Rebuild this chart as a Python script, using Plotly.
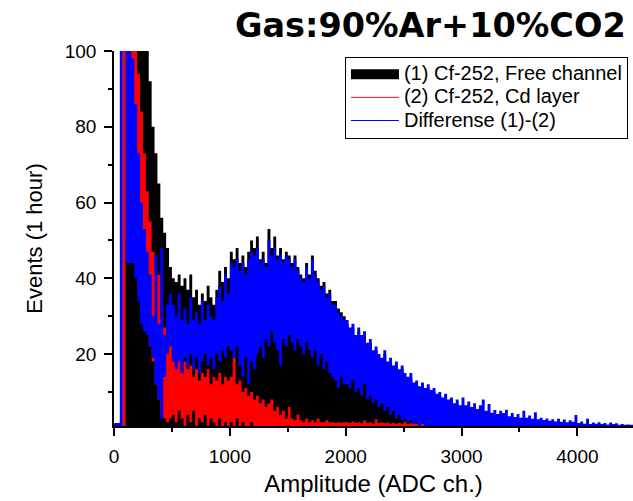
import numpy as np
import plotly.graph_objects as go

# ---------------- data (25 ADC-channel bins) ----------------
BIN_WIDTH = 25  # ADC channels per displayed bin

# (1) Cf-252, Free channel : upper envelope per bin (lower envelope is 0)
free_hi = [0, 0, 0,
           150, 150, 150, 150, 150, 150, 150, 150,
           101, 92, 80, 73, 65, 56, 52, 48, 43,
           40, 39, 41, 38, 40, 37, 41, 35, 37, 33, 36, 34, 38, 35, 33, 37, 42, 39, 43, 40,
           47, 45, 48, 44, 46, 43, 47, 50, 48, 51, 45, 47, 44, 53, 48, 51, 46, 48, 45, 47,
           46, 44, 46, 43, 41, 40, 44, 41, 46, 42, 40, 38, 39, 36, 37, 34, 34, 32, 31, 30,
           28, 26, 27, 24, 26, 24, 25, 22, 23, 20, 21, 19, 18, 20, 17, 18, 16, 17, 15, 16,
           14, 13, 14, 12, 12, 11, 12, 10, 11, 10, 10, 9, 9, 8, 9, 7, 8, 6.5, 7, 6]

# (2) Cf-252, Cd layer : lower / upper envelope per bin
cd_lo = [0, 0, 0, 0,
         50, 50, 50,
         45, 38, 32, 28, 26, 22, 18, 12, 8, 4, 3, 2, 3,
         4, 2, 5, 3, 1, 4, 2, 5, 1, 3, 2, 4, 1, 3, 2, 1, 3, 1, 2, 1,
         2, 1, 3, 1, 2, 0, 1, 2, 0, 1] + [0] * 70
cd_hi = [0, 0, 0,
         150,
         150, 150,
         118, 103, 94, 84, 73, 63, 55, 47, 42, 41, 30, 27, 25, 23,
         20, 17, 19, 15, 18, 16, 17, 14, 16, 13, 15, 14, 16, 12, 14, 13, 15, 12, 14, 13,
         14, 19, 12, 13, 10, 11, 9, 10, 8, 9, 7, 8, 6, 7, 8, 5, 6, 4, 5, 3,
         6, 3, 2.5, 4, 2.5, 2, 3, 2, 2.5, 2, 3, 2, 2, 2.5, 2, 2, 1.8, 2, 1.8, 2,
         2, 1.8, 2.2, 1.8, 2, 1.7, 2.5, 1.8, 2, 1.6, 2.8, 1.8, 2, 1.7, 1.9, 1.6, 1.8, 1.5, 1.8, 1.6,
         2.2, 1.5, 1.7, 1.5, 1.6, 1.4, 1.6, 1.4, 1.5, 1.3, 1.5, 1.3, 1.4, 1.3, 1.4, 1.2, 1.3, 1.2, 1.3, 1.2]

# Differense (1)-(2) : lower / upper envelope per bin
diff_lo = [0, 0, 0, 0,
           44, 44, 44,
           40, 34, 28, 26, 25, 22, 19, 12, 8, 3, 14, 20, 22,
           18, 16, 18, 15, 19, 17, 20, 16, 19, 15, 18, 20, 17, 19, 16, 20, 18, 21, 19, 22,
           21, 19, 22, 17, 14, 19, 12, 18, 16, 20, 22, 19, 24, 22, 26, 23, 21, 17, 24, 22,
           25, 23, 21, 24, 22, 20, 23, 21, 19, 21, 17, 20, 16, 18, 15, 14, 13, 11, 14, 12,
           12, 11, 13, 10, 11, 9, 12, 8, 9, 7, 8, 6, 7, 5, 6, 4, 5, 3, 4, 2.5,
           3, 2, 2.5, 1.5, 2, 1, 1.5, 0, 0, 0, 0, 0, 0, 0, 0, 0, 0, 0, 0, 0] + [0] * 60
diff_hi = [1.8, 1.8, 150, 0, 150, 150,
           98, 86, 73, 60, 53, 47, 41, 30, 46, 28, 48, 25, 33, 36,
           33, 30, 36, 29, 32, 28, 35, 29, 31, 28, 34, 29, 33, 30, 29, 35, 38, 34, 41, 36,
           44, 43, 45, 42, 44, 41, 45, 47, 46, 48, 44, 45, 43, 50, 46, 48, 45, 46, 44, 46,
           45, 43, 45, 42, 40, 39, 43, 40, 45, 41, 39, 37, 38, 35, 36, 33, 33, 31, 30, 29,
           29, 27, 28, 25, 27, 25, 26, 23, 24, 21, 22, 20, 19, 21, 18, 19, 17, 18, 16, 17,
           15, 14, 15, 12.5, 13, 11.5, 12.5, 11, 12, 10.5, 11, 9.5, 10, 8.5, 9.5, 8, 8.5, 7, 8, 6.5,
           8.5, 6.5, 7.5, 6, 7, 5.5, 6.5, 8, 5, 6.8, 4.5, 5.2, 4.2, 5, 4.4, 5.3, 3.6, 4.4, 3.4, 4.2,
           3.2, 5, 3.2, 3.8, 2.9, 4.6, 2.8, 3.2, 2.6, 3.0, 2.4, 2.8, 2.2, 2.9, 2.1, 2.7, 2.0, 2.5, 2.1, 3.9,
           1.8, 2.2, 1.6, 2.9, 1.5, 1.9, 1.6, 2.0, 1.5, 1.8, 1.4, 1.9, 1.5, 1.7, 1.3, 1.5, 1.3, 1.4, 1.3, 1.3]

series_names = ["(1) Cf-252, Free channel", "(2) Cf-252, Cd layer", "Differense (1)-(2)"]
x_tick_values = [0, 1000, 2000, 3000, 4000]
y_tick_values = [20, 40, 60, 80, 100]
title_text = "Gas:90%Ar+10%CO2"
x_title = "Amplitude (ADC ch.)"
y_title = "Events (1 hour)"


def band(lo, hi, w):
    """Stepped outline of a histogram band between lo and hi."""
    n = len(hi)
    edges = np.arange(n + 1) * w
    xs, ys = [], []
    for i in range(n):
        xs += [edges[i], edges[i + 1]]
        ys += [hi[i], hi[i]]
    for i in reversed(range(n)):
        xs += [edges[i + 1], edges[i]]
        ys += [lo[i], lo[i]]
    return xs, ys


fig = go.Figure()

layers = [
    ([0] * len(free_hi), free_hi, "#000000"),
    (cd_lo, cd_hi, "#ff0000"),
    (diff_lo, diff_hi, "#0000ff"),
]
for lo, hi, col in layers:
    xs, ys = band(lo, hi, BIN_WIDTH)
    fig.add_trace(go.Scatter(x=xs, y=ys, mode="lines", fill="toself", fillcolor=col,
                             line=dict(width=0, color=col, simplify=False),
                             hoverinfo="skip", showlegend=False))

# legend entries (text drawn larger than the legend's nominal font to keep rows compact)
def legend_label(s):
    return '<span style="font-size:20px">' + s + '</span>'

fig.add_trace(go.Scatter(x=[None], y=[None], mode="lines", name=legend_label(series_names[0]),
                         line=dict(color="#000000", width=15)))
fig.add_trace(go.Scatter(x=[None], y=[None], mode="lines", name=legend_label(series_names[1]),
                         line=dict(color="#ff0000", width=1)))
fig.add_trace(go.Scatter(x=[None], y=[None], mode="lines", name=legend_label(series_names[2]),
                         line=dict(color="#0000ff", width=1)))

font_family = "Arial, Liberation Sans, sans-serif"
axis_common = dict(showline=True, linecolor="black", linewidth=1.5, ticks="outside",
                   ticklen=8, tickwidth=1.5, tickcolor="black", showgrid=False,
                   zeroline=False, tickfont=dict(family=font_family, size=19, color="black"),
                   ticklabelstandoff=4)

fig.update_layout(
    width=633, height=501,
    margin=dict(l=114, r=0, t=51, b=75),
    paper_bgcolor="white", plot_bgcolor="white",
    font=dict(family=font_family, color="black"),
    xaxis=dict(range=[0, 4480], tickvals=x_tick_values,
               minor=dict(dtick=500, tick0=0, ticks="outside", ticklen=4, tickwidth=1.5, tickcolor="black"),
               title=dict(text=x_title, font=dict(size=24), standoff=10), **axis_common),
    yaxis=dict(range=[1, 100], tickvals=y_tick_values,
               minor=dict(dtick=10, tick0=0, ticks="outside", ticklen=4, tickwidth=1.5, tickcolor="black"),
               title=dict(text=y_title, font=dict(size=22), standoff=16), **axis_common),
    legend=dict(x=0.445, y=0.985, xanchor="left", yanchor="top", bgcolor="white",
                bordercolor="black", borderwidth=1, font=dict(size=15.5, family=font_family),
                tracegroupgap=0, itemwidth=48),
    showlegend=True,
    annotations=[dict(text="<b>" + title_text + "</b>", xref="paper", yref="paper",
                      x=1, y=1.069, xanchor="right", yanchor="middle", xshift=-5, showarrow=False,
                      font=dict(family="DejaVu Sans", size=33.5, color="black"))],
)

fig.write_html("out.html", config={"displayModeBar": False},
               post_script="document.body.style.margin='0px';")
